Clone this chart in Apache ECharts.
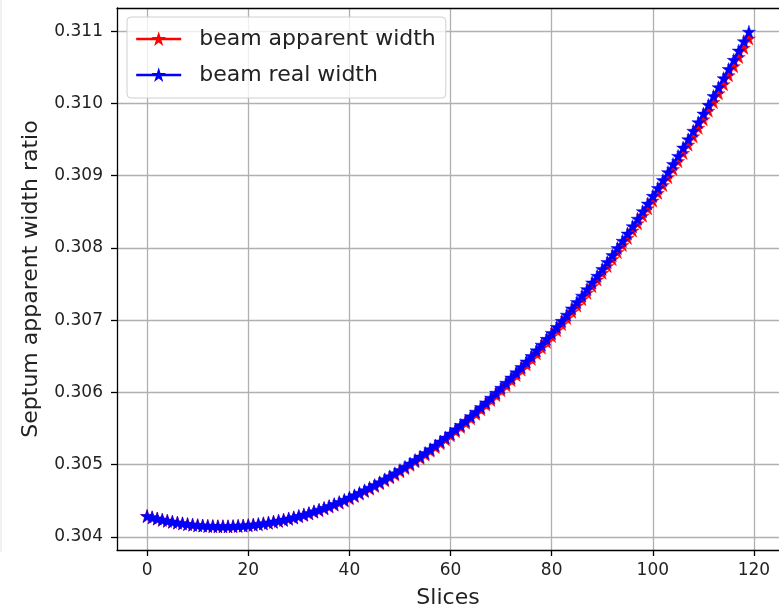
<!DOCTYPE html>
<html>
<head>
<meta charset="utf-8">
<script src="https://cdn.jsdelivr.net/npm/echarts@6/dist/echarts.min.js"></script>
<style>html,body{margin:0;padding:0;background:#fff;}#c{width:779px;height:614px;}</style>
</head>
<body>
<div id="c"></div>
<script>
const slices = [];
for (let i = 0; i < 120; i++) slices.push(i);

const apparentWidth = [
0.304290,0.304272,0.304255,0.304239,0.304225,0.304211,0.304199,0.304189,0.304179,0.304170,
0.304163,0.304158,0.304153,0.304150,0.304148,0.304148,0.304147,0.304149,0.304153,0.304157,
0.304162,0.304169,0.304177,0.304187,0.304196,0.304209,0.304222,0.304235,0.304251,0.304268,
0.304286,0.304305,0.304325,0.304348,0.304370,0.304395,0.304421,0.304447,0.304475,0.304504,
0.304535,0.304566,0.304600,0.304634,0.304669,0.304706,0.304744,0.304784,0.304824,0.304865,
0.304909,0.304953,0.304998,0.305046,0.305093,0.305142,0.305194,0.305245,0.305298,0.305352,
0.305408,0.305465,0.305523,0.305582,0.305642,0.305705,0.305768,0.305832,0.305897,0.305964,
0.306032,0.306101,0.306171,0.306243,0.306316,0.306391,0.306466,0.306543,0.306621,0.306700,
0.306781,0.306863,0.306946,0.307030,0.307116,0.307203,0.307291,0.307380,0.307471,0.307563,
0.307655,0.307750,0.307845,0.307942,0.308041,0.308139,0.308240,0.308342,0.308446,0.308549,
0.308655,0.308762,0.308870,0.308979,0.309090,0.309201,0.309315,0.309429,0.309544,0.309662,
0.309779,0.309899,0.310019,0.310141,0.310265,0.310389,0.310515,0.310641,0.310769,0.310899
];

const realWidth = [
0.304290,0.304272,0.304255,0.304239,0.304225,0.304211,0.304199,0.304189,0.304179,0.304171,
0.304164,0.304159,0.304154,0.304151,0.304149,0.304149,0.304149,0.304151,0.304155,0.304159,
0.304165,0.304172,0.304180,0.304190,0.304200,0.304213,0.304226,0.304240,0.304256,0.304273,
0.304292,0.304311,0.304332,0.304355,0.304378,0.304403,0.304429,0.304456,0.304484,0.304514,
0.304545,0.304577,0.304611,0.304646,0.304682,0.304719,0.304758,0.304798,0.304839,0.304881,
0.304925,0.304970,0.305016,0.305064,0.305112,0.305162,0.305214,0.305266,0.305320,0.305375,
0.305431,0.305489,0.305548,0.305608,0.305669,0.305732,0.305796,0.305861,0.305927,0.305995,
0.306064,0.306134,0.306205,0.306278,0.306352,0.306428,0.306504,0.306582,0.306661,0.306741,
0.306823,0.306906,0.306990,0.307075,0.307162,0.307250,0.307339,0.307429,0.307521,0.307614,
0.307708,0.307804,0.307900,0.307998,0.308098,0.308198,0.308300,0.308403,0.308508,0.308613,
0.308720,0.308828,0.308938,0.309048,0.309160,0.309273,0.309388,0.309503,0.309620,0.309739,
0.309858,0.309979,0.310101,0.310224,0.310349,0.310475,0.310602,0.310730,0.310860,0.310991
];

const xTicks = [0, 20, 40, 60, 80, 100, 120];
const yTicks = [0.304, 0.305, 0.306, 0.307, 0.308, 0.309, 0.310, 0.311];
const seriesNames = ['beam apparent width', 'beam real width'];

const STAR = 'path://M50,0 L61.2,34.5 L97.6,34.5 L68.2,55.9 L79.4,90.5 L50,69.1 L20.6,90.5 L31.8,55.9 L2.4,34.5 L38.8,34.5 Z';
const FONT = 'DejaVu Sans';

const chart = echarts.init(document.getElementById('c'), null, {renderer: 'canvas'});
const gridColor = '#b0b0b0';

chart.setOption({
  animation: false,
  backgroundColor: '#fff',
  textStyle: {fontFamily: FONT},
  grid: {left: 117, top: 8, width: 673, height: 545, containLabel: false},
  legend: {
    show: true,
    left: 127, top: 17,
    orient: 'vertical',
    padding: [11, 10, 12, 8],
    itemGap: 14,
    itemWidth: 45,
    itemHeight: 11,
    backgroundColor: 'rgba(255,255,255,0.8)',
    borderColor: '#d0d0d0',
    borderWidth: 1,
    borderRadius: 4,
    lineStyle: {width: 2.4},
    textStyle: {fontFamily: FONT, fontSize: 22, lineHeight: 22, color: '#222', padding: [0, 0, 0, 13]},
    data: seriesNames
  },
  xAxis: [{
    type: 'value',
    min: -5.95, max: 124.95,
    position: 'bottom',
    name: 'Slices',
    nameLocation: 'middle',
    nameGap: 37,
    nameTextStyle: {fontFamily: FONT, fontSize: 22, color: '#222'},
    axisLine: {show: true, onZero: false, lineStyle: {color: '#000', width: 1.3}},
    axisTick: {show: true, inside: false, length: 6, customValues: xTicks, lineStyle: {color: '#000', width: 1.3}},
    axisLabel: {show: true, margin: 12, fontFamily: FONT, fontSize: 17, color: '#222', customValues: xTicks, formatter: v => String(v)},
    splitLine: {show: true, lineStyle: {color: gridColor, width: 1.3}}
  }, {
    type: 'value',
    min: -5.95, max: 124.95,
    position: 'top',
    axisLine: {show: true, onZero: false, lineStyle: {color: '#000', width: 1.3}},
    axisTick: {show: false},
    axisLabel: {show: false},
    splitLine: {show: false}
  }],
  yAxis: {
    type: 'value',
    min: 0.30382, max: 0.31132,
    name: 'Septum apparent width ratio',
    nameLocation: 'middle',
    nameGap: 75,
    nameTextStyle: {fontFamily: FONT, fontSize: 22, color: '#222'},
    axisLine: {show: true, onZero: false, lineStyle: {color: '#000', width: 1.3}},
    axisTick: {show: true, inside: false, length: 6, customValues: yTicks, lineStyle: {color: '#000', width: 1.3}},
    axisLabel: {show: true, margin: 14, fontFamily: FONT, fontSize: 17, color: '#222', customValues: yTicks, formatter: v => Number(v).toFixed(3)},
    splitLine: {show: true, lineStyle: {color: gridColor, width: 1.3}}
  },
  graphic: [{
    type: 'line', shape: {x1: 1, y1: 0, x2: 1, y2: 552}, style: {stroke: '#e4e4e4', lineWidth: 1}, silent: true
  }],
  series: [{
    name: seriesNames[0],
    type: 'line',
    xAxisIndex: 0,
    data: slices.map((s, i) => [s, apparentWidth[i]]),
    symbol: STAR,
    symbolSize: 13,
    showSymbol: true,
    clip: false,
    lineStyle: {color: '#ff0000', width: 2.6},
    itemStyle: {color: '#ff0000', borderColor: '#ff0000', borderWidth: 0.5},
    z: 3
  }, {
    name: seriesNames[1],
    type: 'line',
    xAxisIndex: 0,
    data: slices.map((s, i) => [s, realWidth[i]]),
    symbol: STAR,
    symbolSize: 13,
    showSymbol: true,
    clip: false,
    lineStyle: {color: '#0000ff', width: 2.6},
    itemStyle: {color: '#0000ff', borderColor: '#0000ff', borderWidth: 0.5},
    z: 4
  }]
});
</script>
</body>
</html>
